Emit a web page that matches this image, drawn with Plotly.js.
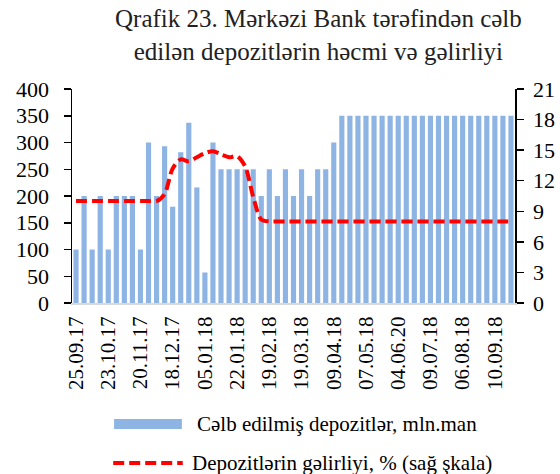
<!DOCTYPE html>
<html>
<head>
<meta charset="utf-8">
<script src="https://cdn.plot.ly/plotly-3.0.1.min.js"></script>
<style>html,body{margin:0;padding:0;background:#fff;}#chart{width:560px;height:474px;}</style>
</head>
<body>
<div id="chart"></div>
<script>
const dates = [
  "25.09.17","02.10.17","09.10.17","16.10.17","23.10.17","30.10.17","06.11.17","13.11.17",
  "20.11.17","27.11.17","04.12.17","11.12.17","18.12.17","22.12.17","26.12.17","29.12.17",
  "05.01.18","08.01.18","12.01.18","15.01.18","22.01.18","29.01.18","05.02.18","12.02.18",
  "19.02.18","26.02.18","05.03.18","12.03.18","19.03.18","26.03.18","02.04.18","05.04.18",
  "09.04.18","16.04.18","23.04.18","30.04.18","07.05.18","14.05.18","21.05.18","28.05.18",
  "04.06.20","11.06.18","18.06.18","25.06.18","09.07.18","16.07.18","23.07.18","30.07.18",
  "06.08.18","13.08.18","20.08.18","27.08.18","10.09.18","17.09.18","24.09.18"
];
const deposits = [
  100,200,100,200,100,200,200,200,
  100,300,200,293,180,282,337,216,
  57,300,250,250,250,250,250,200,
  250,200,250,200,250,200,250,250,
  300,350,350,350,350,350,350,350,
  350,350,350,350,350,350,350,350,
  350,350,350,350,350,350,350
];
const yieldPct = [
  10,10,10,10,10,10,10,10,
  10,10,10,10.7,13.2,14.1,13.9,14.3,
  14.7,14.9,14.6,14.3,14.4,13.4,10.4,8.2,
  8,8,8,8,8,8,8,8,
  8,8,8,8,8,8,8,8,
  8,8,8,8,8,8,8,8,
  8,8,8,8,8,8,8
];
const titleText = "Qrafik 23. Mərkəzi Bank tərəfindən cəlb<br>edilən depozitlərin həcmi və gəlirliyi";
const legendBar = "Cəlb edilmiş depozitlər, mln.man";
const legendLine = "Depozitlərin gəlirliyi, % (sağ şkala)";

const barColor = "#8db4e2";
const lineColor = "#ff0000";
const serif = "Liberation Serif";

const traces = [
  {type:"bar", x:dates, y:deposits, marker:{color:barColor}, name:legendBar, yaxis:"y", hoverinfo:"x+y"},
  {type:"scatter", mode:"lines", x:dates, y:yieldPct, yaxis:"y2", name:legendLine,
   line:{color:lineColor, width:4, dash:"11px,5px", shape:"spline", smoothing:0.8}}
];

const layout = {
  width:560, height:474,
  margin:{l:72, r:45, t:89, b:171},
  paper_bgcolor:"#fff", plot_bgcolor:"#fff",
  showlegend:false,
  bargap:0.36,
  font:{family:serif, color:"#000", size:21},
  xaxis:{type:"category", tickmode:"linear", tick0:0, dtick:4, tickangle:-90,
         showline:true, linecolor:"#d9d9d9", linewidth:2, ticks:"", showgrid:false, zeroline:false,
         tickfont:{family:serif, size:21, color:"#000"}, ticklabelstandoff:3, range:[-0.5,54.5]},
  yaxis:{range:[0,400], dtick:50, tick0:0, ticks:"outside", ticklen:7, tickwidth:1.5, tickcolor:"#000",
         showline:true, linecolor:"#000", linewidth:1.5, showgrid:false, zeroline:false, ticklabelstandoff:10,
         tickfont:{family:serif, size:22, color:"#000"}},
  yaxis2:{range:[0,21], dtick:3, tick0:0, overlaying:"y", side:"right", ticks:"outside", ticklen:7, tickwidth:1.5, tickcolor:"#000",
         showline:true, linecolor:"#000", linewidth:1.5, showgrid:false, zeroline:false, ticklabelstandoff:5,
         tickfont:{family:serif, size:22, color:"#000"}},
  shapes:[
    {type:"rect", xref:"paper", yref:"paper", x0:0.095, x1:0.248, y0:-0.589, y1:-0.542, fillcolor:barColor, line:{width:0}},
    {type:"line", xref:"paper", yref:"paper", x0:0.093, x1:0.250, y0:-0.748, y1:-0.748, line:{color:lineColor, width:4, dash:"11px,5px"}}
  ],
  annotations:[
    {xref:"paper", yref:"paper", x:0.556, y:1.40, xanchor:"center", yanchor:"top", showarrow:false, text:titleText,
     font:{family:serif, size:25, color:"#222"}},
    {xref:"paper", yref:"paper", x:0.278, y:-0.565, xanchor:"left", yanchor:"middle", showarrow:false, text:legendBar, font:{family:serif, size:21, color:"#000"}},
    {xref:"paper", yref:"paper", x:0.266, y:-0.748, xanchor:"left", yanchor:"middle", showarrow:false, text:legendLine, font:{family:serif, size:21, color:"#000"}}
  ]
};
Plotly.newPlot("chart", traces, layout, {displayModeBar:false, staticPlot:true});
</script>
</body>
</html>
